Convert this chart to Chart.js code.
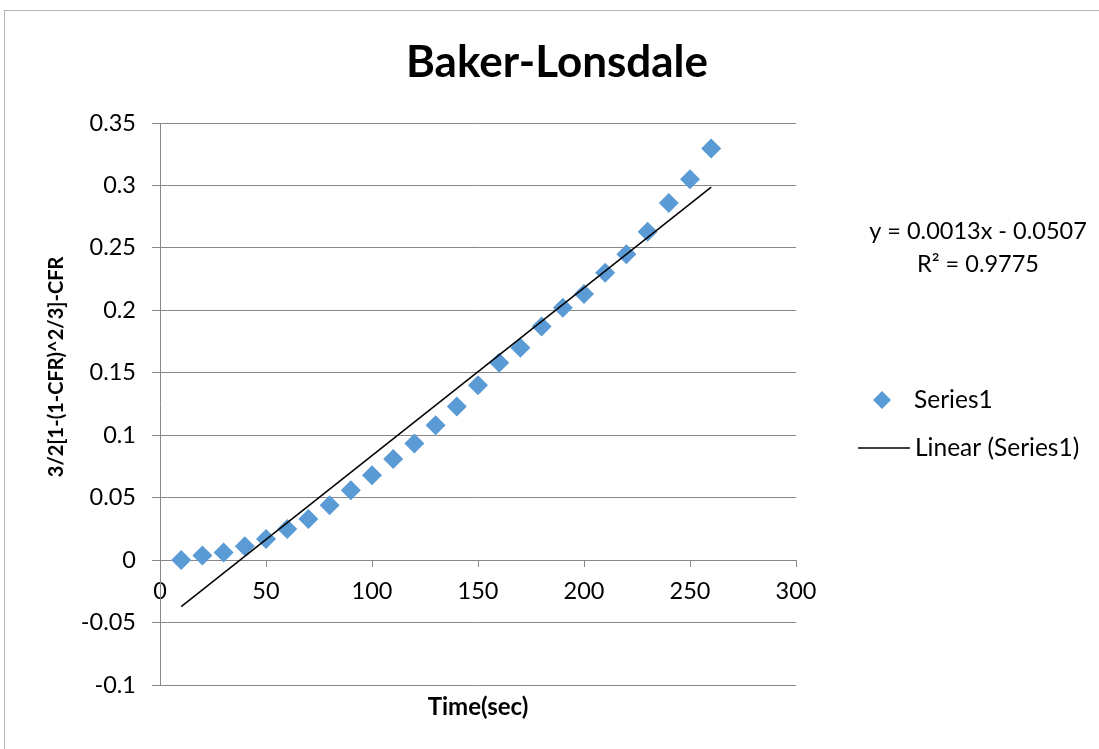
<!DOCTYPE html>
<html>
<head>
<meta charset="utf-8">
<script src="https://cdn.jsdelivr.net/npm/chart.js@4.4.1/dist/chart.umd.min.js"></script>
<style>
  html, body { margin: 0; padding: 0; background: #ffffff; }
  #wrap { position: relative; width: 1099px; height: 749px; }
  #frame { position: absolute; left: 4px; top: 10px; right: -2px; bottom: -2px;
           border-top: 1.5px solid #b4b4b4; border-left: 1.5px solid #b4b4b4; pointer-events: none; }
  canvas { position: absolute; left: 0; top: 0; }
</style>
</head>
<body>
<div id="wrap">
  <canvas id="chart" width="1099" height="749"></canvas>
  <div id="frame"></div>
</div>
<script>
// Time points (seconds)
const timeSec = [10, 20, 30, 40, 50, 60, 70, 80, 90, 100, 110, 120, 130,
                 140, 150, 160, 170, 180, 190, 200, 210, 220, 230, 240, 250, 260];
// 3/2[1-(1-CFR)^2/3]-CFR at each time point
const bakerLonsdale = [0.000, 0.0036, 0.006, 0.011, 0.017, 0.025, 0.033, 0.044, 0.056,
                       0.068, 0.081, 0.0934, 0.108, 0.123, 0.140, 0.158, 0.170, 0.187,
                       0.202, 0.213, 0.230, 0.245, 0.263, 0.286, 0.305, 0.3296];

const chartTitle = 'Baker-Lonsdale';
const xAxisTitle = 'Time(sec)';
const yAxisTitle = '3/2[1-(1-CFR)^2/3]-CFR';
const seriesName = 'Series1';
const trendName = 'Linear (Series1)';

const xTicks = [0, 50, 100, 150, 200, 250, 300];
const yTicks = [-0.1, -0.05, 0, 0.05, 0.1, 0.15, 0.2, 0.25, 0.3, 0.35];

// Least-squares linear fit of the series
function linearFit(xs, ys) {
  const n = xs.length;
  const mx = xs.reduce((a, b) => a + b, 0) / n;
  const my = ys.reduce((a, b) => a + b, 0) / n;
  let sxy = 0, sxx = 0, syy = 0;
  for (let i = 0; i < n; i++) {
    sxy += (xs[i] - mx) * (ys[i] - my);
    sxx += (xs[i] - mx) ** 2;
    syy += (ys[i] - my) ** 2;
  }
  const slope = sxy / sxx;
  const intercept = my - slope * mx;
  const r2 = (sxy * sxy) / (sxx * syy);
  return { slope, intercept, r2 };
}
const fit = linearFit(timeSec, bakerLonsdale);
const xFirst = timeSec[0], xLast = timeSec[timeSec.length - 1];
const trendPoints = [
  { x: xFirst, y: fit.slope * xFirst + fit.intercept },
  { x: xLast, y: fit.slope * xLast + fit.intercept }
];
const sign = fit.intercept < 0 ? '-' : '+';
const equationText = 'y = ' + fit.slope.toFixed(4) + 'x ' + sign + ' ' + Math.abs(fit.intercept).toFixed(4);
const r2Text = 'R\u00B2 = ' + fit.r2.toFixed(4);

const FONT = 'Lato, "Open Sans", sans-serif';
const GRID = '#878787';
const BLUE = '#5B9BD5';

// Chart title, axis titles, trendline equation and legend
const sidePlugin = {
  id: 'sideText',
  afterDraw(chart) {
    const ctx = chart.ctx;
    const area = chart.chartArea;
    ctx.save();
    ctx.fillStyle = '#000';
    ctx.textAlign = 'center';
    ctx.textBaseline = 'middle';

    // chart title, centred on the whole chart
    ctx.font = 'bold 44px ' + FONT;
    ctx.fillText(chartTitle, 557, 63);

    // y axis title
    ctx.font = 'bold 20px ' + FONT;
    ctx.save();
    ctx.translate(57, area.top + (area.bottom - area.top) * 0.434);
    ctx.rotate(-Math.PI / 2);
    ctx.fillText(yAxisTitle, 0, 0);
    ctx.restore();

    // x axis title
    ctx.font = 'bold 24px ' + FONT;
    ctx.fillText(xAxisTitle, (area.left + area.right) / 2, 707);

    // trendline equation
    ctx.font = '23.5px ' + FONT;
    ctx.fillText(equationText, 978, 231);
    ctx.fillText(r2Text, 978, 264);

    // legend
    const ds0 = chart.data.datasets[0];
    const ds1 = chart.data.datasets[1];
    ctx.font = '24.5px ' + FONT;
    const r = 9;
    const mx = 882, my = 400;
    ctx.fillStyle = ds0.backgroundColor;
    ctx.beginPath();
    ctx.moveTo(mx - r, my); ctx.lineTo(mx, my - r); ctx.lineTo(mx + r, my); ctx.lineTo(mx, my + r);
    ctx.closePath();
    ctx.fill();
    ctx.fillStyle = '#000';
    ctx.textAlign = 'left';
    ctx.fillText(ds0.label, 914, my);

    ctx.strokeStyle = ds1.borderColor;
    ctx.lineWidth = 1.5;
    ctx.beginPath();
    ctx.moveTo(858, 448); ctx.lineTo(910, 448);
    ctx.stroke();
    ctx.fillText(ds1.label, 915, 448);
    ctx.restore();
  }
};

new Chart(document.getElementById('chart'), {
  type: 'scatter',
  data: {
    datasets: [
      {
        label: seriesName,
        data: timeSec.map((t, i) => ({ x: t, y: bakerLonsdale[i] })),
        pointStyle: 'rectRot',
        pointRadius: 10,
        pointHoverRadius: 10,
        backgroundColor: BLUE,
        borderColor: BLUE,
        borderWidth: 0,
        order: 1
      },
      {
        type: 'line',
        label: trendName,
        data: trendPoints,
        showLine: true,
        borderColor: '#000000',
        borderWidth: 1.5,
        pointRadius: 0,
        fill: false,
        order: 0
      }
    ]
  },
  options: {
    responsive: false,
    animation: false,
    devicePixelRatio: 1,
    layout: { padding: { left: 0, right: 303, top: 123, bottom: 64 } },
    plugins: {
      legend: { display: false },
      tooltip: { enabled: false },
      title: { display: false }
    },
    scales: {
      x: {
        type: 'linear',
        position: { y: 0 },
        min: 0,
        max: 300,
        afterBuildTicks(scale) { scale.ticks = xTicks.map(v => ({ value: v })); },
        ticks: {
          color: '#000',
          font: { family: FONT, size: 23.5 },
          padding: 11,
          maxRotation: 0
        },
        grid: { drawOnChartArea: false, drawTicks: true, tickLength: 6, color: GRID, lineWidth: 1 },
        border: { display: true, color: GRID, width: 1 }
      },
      y: {
        type: 'linear',
        min: -0.1,
        max: 0.35,
        afterBuildTicks(scale) { scale.ticks = yTicks.map(v => ({ value: v })); },
        afterFit(scale) { scale.width = 160; },
        ticks: {
          color: '#000',
          font: { family: FONT, size: 23.5 },
          padding: 16,
          callback: v => String(Math.round(v * 100) / 100)
        },
        grid: { color: GRID, lineWidth: 1, tickLength: 8, drawTicks: true },
        border: { display: true, color: GRID, width: 1 }
      }
    }
  },
  plugins: [sidePlugin]
});
</script>
</body>
</html>
